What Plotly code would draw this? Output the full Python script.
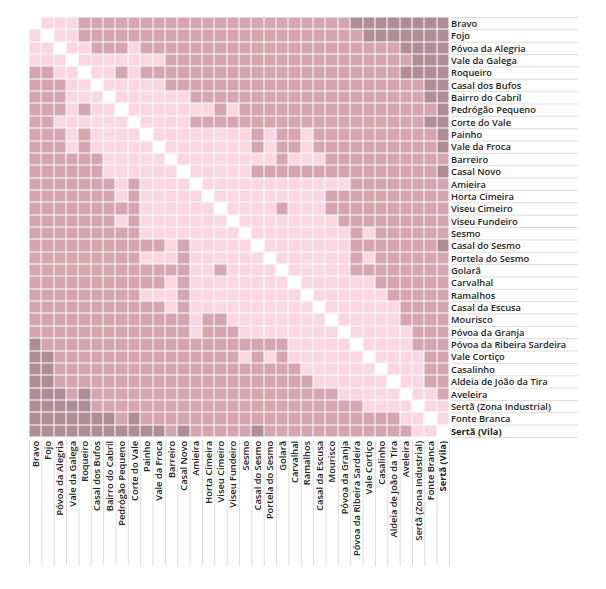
import plotly.graph_objects as go

places = [
    "Bravo", "Fojo", "Póvoa da Alegria", "Vale da Galega", "Roqueiro",
    "Casal dos Bufos", "Bairro do Cabril", "Pedrógão Pequeno", "Corte do Vale",
    "Painho", "Vale da Froca", "Barreiro", "Casal Novo", "Amieira",
    "Horta Cimeira", "Viseu Cimeiro", "Viseu Fundeiro", "Sesmo",
    "Casal do Sesmo", "Portela do Sesmo", "Golarã", "Carvalhal", "Ramalhos",
    "Casal da Escusa", "Mourisco", "Póvoa da Granja",
    "Póvoa da Ribeira Sardeira", "Vale Cortiço", "Casalinho",
    "Aldeia de João da Tira", "Aveleira", "Sertã (Zona Industrial)",
    "Fonte Branca", "Sertã (Vila)",
]
bold_places = ["Sertã (Vila)"]

# distance class per pair (0 = same place, 1 = near, 2 = medium, 3 = far)
# each row: runs of (class, count) for the columns right of the diagonal
upper_runs = [
    [(1, 3), (2, 22), (3, 8)],
    [(1, 2), (2, 23), (3, 7)],
    [(1, 2), (2, 3), (1, 1), (2, 21), (3, 4)],
    [(1, 7), (2, 20), (3, 3)],
    [(1, 2), (2, 1), (1, 1), (2, 21), (3, 4)],
    [(1, 5), (2, 21), (3, 2)],
    [(1, 6), (2, 19), (3, 2)],
    [(1, 7), (2, 1), (1, 1), (2, 16), (3, 1)],
    [(1, 4), (2, 19), (3, 2)],
    [(1, 8), (2, 1), (1, 1), (2, 2), (1, 1), (2, 10), (3, 1)],
    [(1, 7), (2, 1), (1, 1), (2, 2), (1, 1), (2, 10), (3, 1)],
    [(1, 8), (2, 1), (1, 3), (2, 10)],
    [(1, 5), (2, 15), (3, 1)],
    [(1, 12), (2, 8)],
    [(1, 9), (2, 10)],
    [(1, 4), (2, 1), (1, 3), (2, 10)],
    [(1, 8), (2, 9)],
    [(1, 8), (2, 1), (1, 1), (2, 6)],
    [(1, 7), (2, 7), (3, 1)],
    [(1, 6), (2, 1), (1, 1), (2, 6)],
    [(1, 5), (2, 8)],
    [(1, 6), (2, 6)],
    [(1, 6), (2, 5)],
    [(1, 6), (2, 4)],
    [(1, 5), (2, 4)],
    [(1, 5), (2, 3)],
    [(1, 4), (2, 3)],
    [(1, 4), (2, 2)],
    [(1, 3), (2, 2)],
    [(1, 2), (2, 2)],
    [(1, 2), (2, 1)],
    [(1, 2)],
    [(1, 1)],
]

class_colors = ["#ffffff", "#fbd8e1", "#d5a6b0", "#af8d96"]
grid_color = "#dddddd"
label_color = "#222222"

n = len(places)
z = [[0] * n for _ in range(n)]
for r, runs in enumerate(upper_runs):
    c = r + 1
    for lvl, cnt in runs:
        for _ in range(cnt):
            z[r][c] = lvl
            z[c][r] = lvl
            c += 1

k = len(class_colors)
colorscale = []
for i, col in enumerate(class_colors):
    colorscale.append([i / k, col])
    colorscale.append([(i + 1) / k, col])

ticktext = [f"<b>{p}</b>" if p in bold_places else p for p in places]

fig = go.Figure(
    go.Heatmap(
        z=z, x=places, y=places,
        colorscale=colorscale, zmin=-0.5, zmax=k - 0.5,
        showscale=False, xgap=1, ygap=1, hoverinfo="skip",
    )
)

# page body has an 8px default margin
W, H = 598, 581
ml, mr, mt, mb = 21, 156, 9, 151
pw, ph = W - ml - mr, H - mt - mb
right_ext = 1 + 128 / pw
bottom_ext = -128 / ph

shapes = []
for i in range(n + 1):
    shapes.append(dict(type="line", xref="paper", yref="y",
                       x0=1.004, x1=right_ext, y0=i - 0.5, y1=i - 0.5,
                       line=dict(color=grid_color, width=1), layer="below"))
    shapes.append(dict(type="line", xref="x", yref="paper",
                       x0=i - 0.5, x1=i - 0.5, y0=-0.004, y1=bottom_ext,
                       line=dict(color=grid_color, width=1), layer="below"))

tickfont = dict(family="Open Sans", size=9.3, weight=600, color=label_color)
fig.update_layout(
    width=W, height=H,
    margin=dict(l=ml, r=mr, t=mt, b=mb, pad=0),
    paper_bgcolor="white", plot_bgcolor="white",
    shapes=shapes,
    xaxis=dict(side="bottom", tickangle=-90, tickmode="array",
               tickvals=places, ticktext=ticktext, tickfont=tickfont,
               showgrid=False, zeroline=False, ticks="", showline=False,
               automargin=False, fixedrange=True),
    yaxis=dict(side="right", autorange="reversed", tickmode="array",
               tickvals=places, ticktext=ticktext, tickfont=tickfont,
               showgrid=False, zeroline=False, ticks="", showline=False,
               automargin=False, fixedrange=True),
)

fig.write_html("out.html")
